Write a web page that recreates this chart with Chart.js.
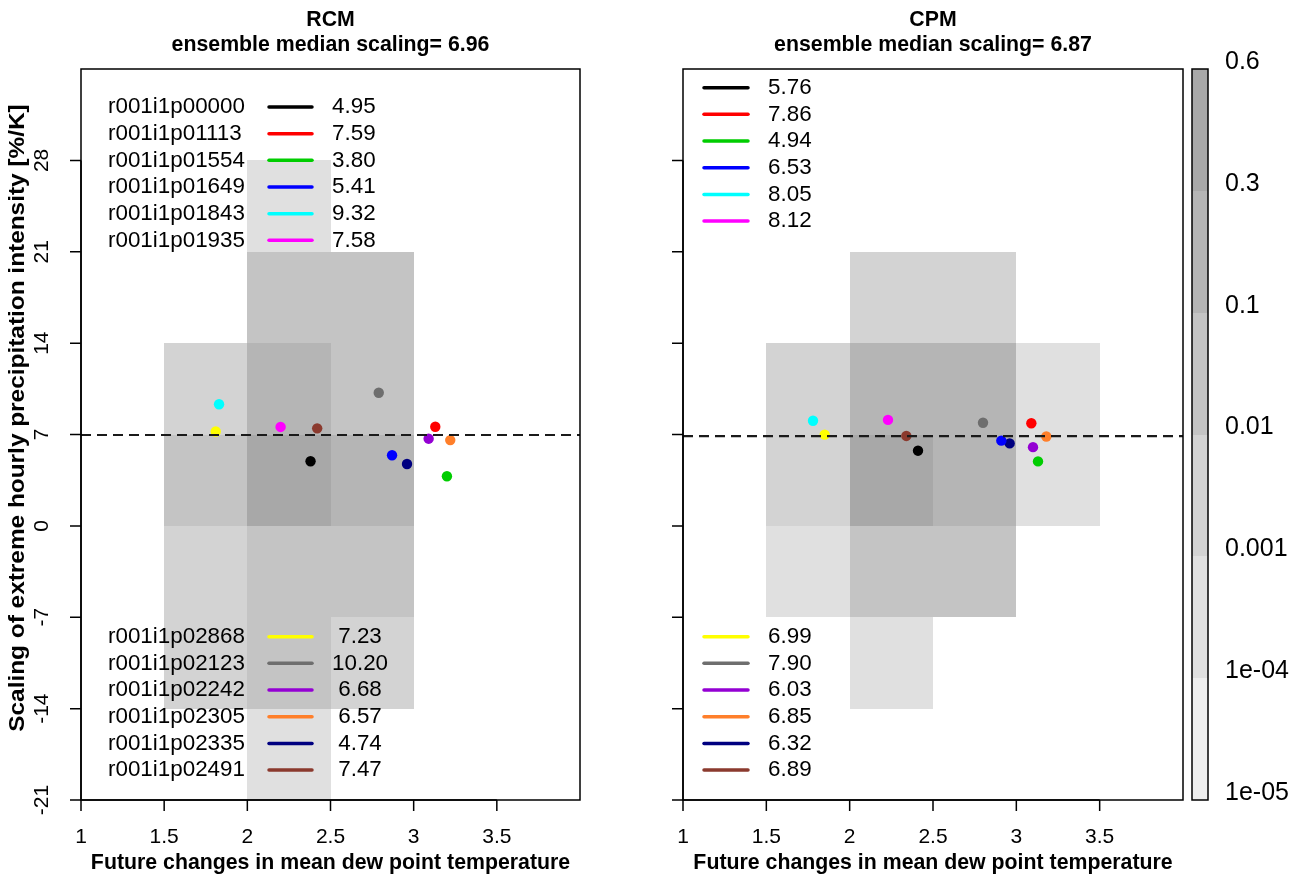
<!DOCTYPE html>
<html>
<head>
<meta charset="utf-8">
<script src="https://cdn.jsdelivr.net/npm/chart.js@4/dist/chart.umd.min.js"></script>
<style>
  html, body { margin: 0; padding: 0; background: #ffffff; }
  #wrap { position: relative; width: 1311px; height: 878px; overflow: hidden; }
  canvas { position: absolute; top: 0; }
  #rcm { left: 0; }
  #cpm { left: 640px; }
</style>
</head>
<body>
<div id="wrap">
  <canvas id="rcm" width="640" height="878"></canvas>
  <canvas id="cpm" width="671" height="878"></canvas>
</div>
<script>
// ---- ensemble members ----
const members = ['r001i1p00000', 'r001i1p01113', 'r001i1p01554', 'r001i1p01649', 'r001i1p01843', 'r001i1p01935',
                 'r001i1p02868', 'r001i1p02123', 'r001i1p02242', 'r001i1p02305', 'r001i1p02335', 'r001i1p02491'];
const memberColors = ['#000000', '#FF0000', '#00CD00', '#0000FF', '#00FFFF', '#FF00FF',
                      '#FFFF00', '#6E6E6E', '#9400D3', '#FF7F2A', '#000080', '#8B3A2E'];

// future change in mean dew point temperature (K) and scaling (%/K) per member
const rcmDewpoint = [2.38, 3.13, 3.20, 2.87, 1.83, 2.20, 1.81, 2.79, 3.09, 3.22, 2.96, 2.42];
const rcmScaling  = [4.95, 7.59, 3.80, 5.41, 9.32, 7.58, 7.23, 10.20, 6.68, 6.57, 4.74, 7.47];
const cpmDewpoint = [2.41, 3.09, 3.13, 2.91, 1.78, 2.23, 1.85, 2.80, 3.10, 3.18, 2.96, 2.34];
const cpmScaling  = [5.76, 7.86, 4.94, 6.53, 8.05, 8.12, 6.99, 7.90, 6.03, 6.85, 6.32, 6.89];

const rcmMedian = 6.96;
const cpmMedian = 6.87;

// axes
const xTicks = [1, 1.5, 2, 2.5, 3, 3.5];
const yTicks = [-21, -14, -7, 0, 7, 14, 21, 28];

// 2-D density of (dew point change, scaling); rows = scaling bins from bottom, cols = dew point bins
const dewpointEdges = [1.5, 2.0, 2.5, 3.0, 3.5];
const scalingEdges  = [-21, -14, -7, 0, 7, 14, 21, 28];
const rcmDensity = [
  [0,      0.0005, 0,      0],
  [0.005,  0.05,   0.005,  0],
  [0.005,  0.05,   0.05,   0],
  [0.05,   0.45,   0.2,    0],
  [0.005,  0.2,    0.05,   0],
  [0,      0.05,   0.05,   0],
  [0,      0.0005, 0,      0]
];
const cpmDensity = [
  [0,      0,      0,      0],
  [0,      0.0005, 0,      0],
  [0.0005, 0.05,   0.05,   0],
  [0.005,  0.45,   0.2,    0.0005],
  [0.005,  0.2,    0.2,    0.0005],
  [0,      0.005,  0.005,  0],
  [0,      0,      0,      0]
];

// colour key
const densityBreaks = [1e-5, 1e-4, 1e-3, 1e-2, 0.1, 0.3, 0.6];
const breakLabels   = ['1e-05', '1e-04', '0.001', '0.01', '0.1', '0.3', '0.6'];
const binGreys      = ['#EEEEEE', '#E0E0E0', '#D3D3D3', '#C4C4C4', '#B5B5B5', '#A8A8A8'];

const FONT = '"Liberation Sans", Arial, Helvetica, sans-serif';

function greyFor(d) {
  for (let k = 0; k < densityBreaks.length - 1; k++) {
    if (d >= densityBreaks[k] && d < densityBreaks[k + 1]) return binGreys[k];
  }
  return d >= densityBreaks[densityBreaks.length - 1] ? binGreys[binGreys.length - 1] : null;
}

function makePanelPlugin(cfg) {
  return {
    id: 'panel_' + cfg.key,
    beforeDatasetsDraw(chart) {
      const ctx = chart.ctx, xs = chart.scales.x, ys = chart.scales.y, a = chart.chartArea;
      ctx.save();
      ctx.beginPath();
      ctx.rect(a.left, a.top, a.right - a.left, a.bottom - a.top);
      ctx.clip();
      cfg.density.forEach((row, r) => {
        row.forEach((d, c) => {
          if (!d) return;
          const col = greyFor(d);
          if (!col) return;
          // snap edges to whole pixels so neighbouring cells meet without seams
          const x0 = Math.round(xs.getPixelForValue(dewpointEdges[c]));
          const x1 = Math.round(xs.getPixelForValue(dewpointEdges[c + 1]));
          const y0 = Math.round(ys.getPixelForValue(scalingEdges[r]));
          const y1 = Math.round(ys.getPixelForValue(scalingEdges[r + 1]));
          ctx.fillStyle = col;
          ctx.fillRect(x0, y1, x1 - x0, y0 - y1);
        });
      });
      ctx.restore();
    },
    afterDatasetsDraw(chart) {
      const ctx = chart.ctx, xs = chart.scales.x, ys = chart.scales.y, a = chart.chartArea;
      ctx.save();
      ctx.strokeStyle = '#000000';
      ctx.fillStyle = '#000000';
      ctx.lineWidth = 1.5;
      // frame
      ctx.strokeRect(a.left, a.top, a.right - a.left, a.bottom - a.top);

      // x axis
      const tick = 11;
      ctx.beginPath();
      ctx.moveTo(xs.getPixelForValue(xTicks[0]), a.bottom);
      ctx.lineTo(xs.getPixelForValue(xTicks[xTicks.length - 1]), a.bottom);
      xTicks.forEach(v => {
        const px = xs.getPixelForValue(v);
        ctx.moveTo(px, a.bottom);
        ctx.lineTo(px, a.bottom + tick);
      });
      // y axis
      ctx.moveTo(a.left, ys.getPixelForValue(yTicks[0]));
      ctx.lineTo(a.left, ys.getPixelForValue(yTicks[yTicks.length - 1]));
      yTicks.forEach(v => {
        const py = ys.getPixelForValue(v);
        ctx.moveTo(a.left - tick, py);
        ctx.lineTo(a.left, py);
      });
      ctx.stroke();

      ctx.font = '21px ' + FONT;
      ctx.textAlign = 'center';
      ctx.textBaseline = 'middle';
      xTicks.forEach(v => ctx.fillText(String(v), xs.getPixelForValue(v), a.bottom + 37));
      if (cfg.yLabels) {
        yTicks.forEach(v => {
          ctx.save();
          ctx.translate(a.left - 39, ys.getPixelForValue(v));
          ctx.rotate(-Math.PI / 2);
          ctx.fillText(String(v), 0, 0);
          ctx.restore();
        });
        // rotated axis title, glyphs kept slim across the margin
        ctx.save();
        ctx.font = 'bold 24.4px ' + FONT;
        ctx.translate(18, 418);
        ctx.rotate(-Math.PI / 2);
        ctx.scale(1, 0.88);
        ctx.fillText('Scaling of extreme hourly precipitation intensity [%/K]', 0, 0);
        ctx.restore();
      }

      // titles
      const cx = (a.left + a.right) / 2;
      ctx.font = 'bold 21.3px ' + FONT;
      ctx.fillText(cfg.title, cx, 20);
      ctx.fillText('ensemble median scaling= ' + cfg.median.toFixed(2), cx, 45);
      ctx.fillText('Future changes in mean dew point temperature', cx, a.bottom + 63);

      // member legends (top block: first six, bottom block: last six)
      const rowH = 26.67;
      const drawBlock = (start, y0, withNames, valueX, lineX0, lineX1, padValues) => {
        for (let i = 0; i < 6; i++) {
          const k = start + i;
          const y = y0 + i * rowH;
          ctx.font = '22.4px ' + FONT;
          ctx.textAlign = 'left';
          ctx.fillStyle = '#000000';
          if (withNames) ctx.fillText(members[k], a.left + 27, y);
          let txt = cfg.values[k].toFixed(2);
          if (padValues) txt = txt.padStart(5, ' ');
          ctx.fillText(txt, a.left + valueX, y);
          ctx.strokeStyle = memberColors[k];
          ctx.lineWidth = 3.5;
          ctx.lineCap = 'round';
          ctx.beginPath();
          ctx.moveTo(a.left + lineX0, y);
          ctx.lineTo(a.left + lineX1, y);
          ctx.stroke();
        }
      };
      if (cfg.names) {
        drawBlock(0, a.top + 38, true, 251, 188, 231, false);
        drawBlock(6, a.bottom - 163.3, true, 251, 188, 231, true);
      } else {
        drawBlock(0, a.top + 18.7, false, 85, 21, 65, false);
        drawBlock(6, a.bottom - 163.3, false, 85, 21, 65, false);
      }

      // colour key
      if (cfg.colorKey) {
        const kx = a.right + 9, kw = 16;
        const n = binGreys.length;
        const segH = (a.bottom - a.top) / n;
        for (let k = 0; k < n; k++) {
          ctx.fillStyle = binGreys[k];
          const yTop = Math.round(a.bottom - (k + 1) * segH);
          const yBot = Math.round(a.bottom - k * segH);
          ctx.fillRect(kx, yTop, kw, yBot - yTop);
        }
        ctx.strokeStyle = '#000000';
        ctx.lineWidth = 1.5;
        ctx.lineCap = 'butt';
        ctx.strokeRect(kx, a.top, kw, a.bottom - a.top);
        ctx.fillStyle = '#000000';
        ctx.font = '25px ' + FONT;
        ctx.textAlign = 'left';
        breakLabels.forEach((lab, k) => {
          ctx.fillText(lab, kx + 33, a.bottom - k * segH - 7);
        });
      }
      ctx.restore();
    }
  };
}

function buildPanel(canvasId, cfg) {
  const datasets = members.map((m, i) => ({
    type: 'scatter',
    label: m,
    data: [{ x: cfg.dewpoint[i], y: cfg.values[i] }],
    backgroundColor: memberColors[i],
    borderWidth: 0,
    pointRadius: 5.2,
    pointHoverRadius: 5.2
  }));
  datasets.push({
    type: 'line',
    label: 'ensemble median',
    data: [{ x: 1, y: cfg.median }, { x: 4, y: cfg.median }],
    borderColor: '#1a1a1a',
    borderWidth: 2.2,
    borderDash: [10, 6],
    pointRadius: 0,
    fill: false,
    order: -1
  });
  return new Chart(document.getElementById(canvasId), {
    type: 'scatter',
    data: { datasets },
    options: {
      responsive: false,
      animation: false,
      devicePixelRatio: 1,
      layout: { padding: cfg.padding },
      plugins: { legend: { display: false }, tooltip: { enabled: false } },
      scales: {
        x: { type: 'linear', min: 1, max: 4, display: false },
        y: { type: 'linear', min: -21, max: 35, display: false }
      }
    },
    plugins: [makePanelPlugin(cfg)]
  });
}

buildPanel('rcm', {
  key: 'rcm', title: 'RCM', median: rcmMedian,
  dewpoint: rcmDewpoint, values: rcmScaling, density: rcmDensity,
  yLabels: true, names: true, colorKey: false,
  padding: { left: 81, right: 60, top: 69, bottom: 78 }
});
buildPanel('cpm', {
  key: 'cpm', title: 'CPM', median: cpmMedian,
  dewpoint: cpmDewpoint, values: cpmScaling, density: cpmDensity,
  yLabels: false, names: false, colorKey: true,
  padding: { left: 43, right: 128, top: 69, bottom: 78 }
});
</script>
</body>
</html>
